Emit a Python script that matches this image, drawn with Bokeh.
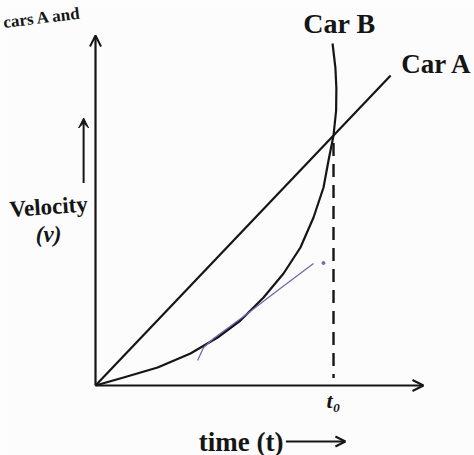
from bokeh.plotting import figure
from bokeh.models import Range1d, Arrow, OpenHead, VeeHead
from bokeh.core.properties import value
from bokeh.embed import file_html
from bokeh.resources import INLINE
import math

# ---- data (time t, velocity v; t0 = 1) ----
t0 = 1.0
carA_t = [0.0, 1.24]
carA_v = [0.0, 1.24]

carB_t = [0.0, 0.118, 0.261, 0.399, 0.513, 0.609, 0.706, 0.790, 0.861, 0.916,
          0.958, 0.979, 1.0, 1.011, 1.012, 1.008, 0.996]
carB_v = [0.0, 0.032, 0.072, 0.128, 0.192, 0.260, 0.352, 0.448, 0.552, 0.672,
          0.792, 0.900, 1.0, 1.10, 1.19, 1.27, 1.368]

pen_t = [0.429, 0.454, 0.496, 0.639, 0.765, 0.916]
pen_v = [0.100, 0.152, 0.188, 0.288, 0.380, 0.488]
pen_dot_t = [0.958]
pen_dot_v = [0.490]

axis_t_end = 1.378
axis_v_end = 1.40

labels = ["Car A", "Car B", "Velocity", "(v)", "t\u2080", "time (t)", "cars A and"]

INK = "#151515"
FONT = value("Liberation Serif")

p = figure(width=474, height=455, output_backend="svg", toolbar_location=None,
           x_range=Range1d(-0.3992, 1.5924), y_range=Range1d(-0.28, 1.54),
           min_border=0, background_fill_color="#fcfcfc", border_fill_color="#fcfcfc")
p.axis.visible = False
p.grid.visible = False
p.outline_line_color = None

# axes with arrow heads
p.add_layout(Arrow(end=OpenHead(size=11, line_width=2, line_color=INK),
                   x_start=0, y_start=0, x_end=axis_t_end, y_end=0,
                   line_width=2.2, line_color=INK))
p.add_layout(Arrow(end=OpenHead(size=11, line_width=2, line_color=INK),
                   x_start=0, y_start=0, x_end=0, y_end=axis_v_end,
                   line_width=2.2, line_color=INK))

# Car A and Car B
p.line(carA_t, carA_v, line_width=2.2, line_color=INK)
p.line(carB_t, carB_v, line_width=2.2, line_color=INK, line_join="round")

# dashed t0 line
p.line([t0, t0], [0.97, 0.03], line_width=2.4, line_color=INK, line_dash="13 8")

# blue pen mark
p.line(pen_t, pen_v, line_width=1.3, line_color="#6d69b5", line_join="round")
p.scatter(pen_dot_t, pen_dot_v, size=3, color="#6d69b5")

# small velocity arrow
p.add_layout(Arrow(end=VeeHead(size=10, line_color=INK, fill_color=INK),
                   x_start=-0.05, y_start=0.81, x_end=-0.05, y_end=1.07,
                   line_width=2, line_color=INK))

# time arrow
p.add_layout(Arrow(end=OpenHead(size=10, line_width=2, line_color=INK),
                   x_start=0.80, y_start=-0.224, x_end=1.05, y_end=-0.224,
                   line_width=2, line_color=INK))

# labels
p.text(x=[1.285], y=[1.285], text=[labels[0]], text_font=FONT, text_font_style="bold",
       text_font_size="27px", text_align="left", text_baseline="middle", text_color=INK)
p.text(x=[1.025], y=[1.448], text=[labels[1]], text_font=FONT, text_font_style="bold",
       text_font_size="28px", text_align="center", text_baseline="middle", text_color=INK)
p.text(x=[-0.197], y=[0.715], text=[labels[2]], text_font=FONT, text_font_style="bold",
       text_font_size="23px", text_align="center", text_baseline="middle", text_color=INK,
       angle=math.radians(4))
p.text(x=[-0.197], y=[0.605], text=[labels[3]], text_font=FONT, text_font_style="bold italic",
       text_font_size="23px", text_align="center", text_baseline="middle", text_color=INK)
p.text(x=[t0], y=[-0.06], text=[labels[4]], text_font=FONT, text_font_style="bold italic",
       text_font_size="22px", text_align="center", text_baseline="middle", text_color=INK)
p.text(x=[0.79], y=[-0.224], text=[labels[5]], text_font=FONT, text_font_style="bold",
       text_font_size="27px", text_align="right", text_baseline="middle", text_color=INK)
# caption fragment at top-left
p.text(x=[-0.387], y=[1.452], text=[labels[6]], text_font=FONT, text_font_style="bold",
       text_font_size="17px", text_align="left", text_baseline="alphabetic", text_color=INK,
       angle=math.radians(7))

open("out.html", "w").write(file_html(p, INLINE))
